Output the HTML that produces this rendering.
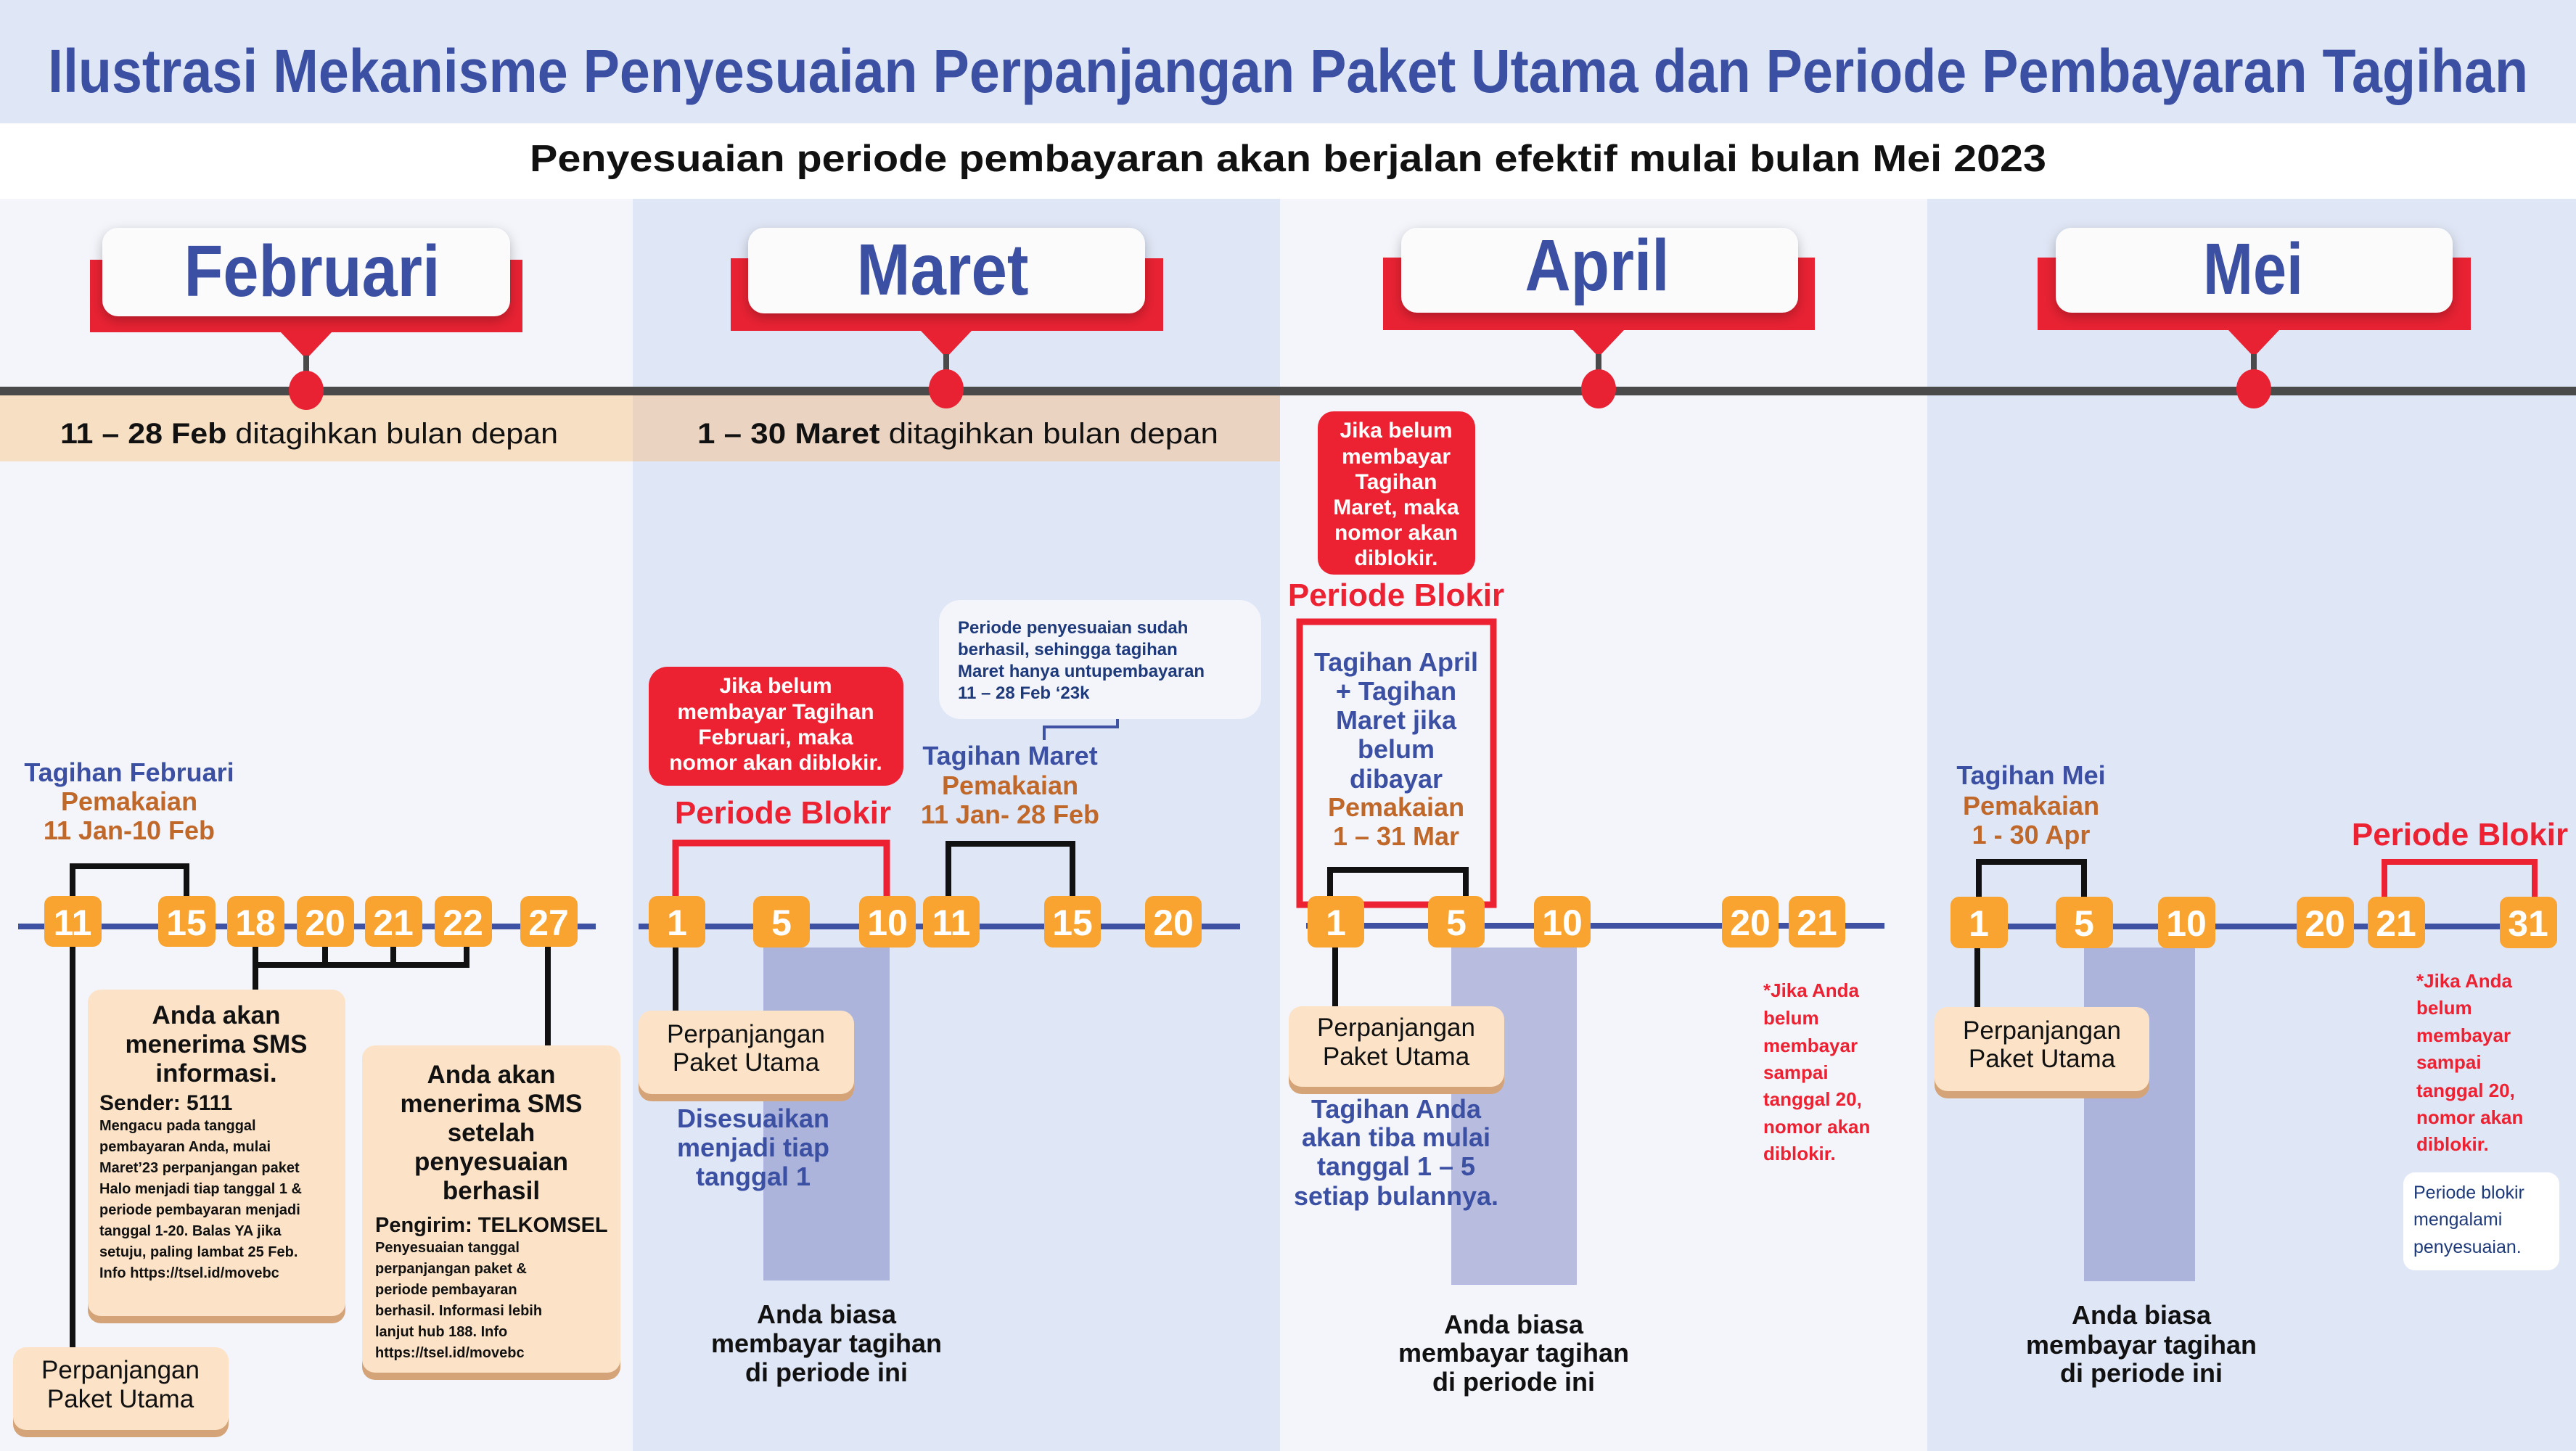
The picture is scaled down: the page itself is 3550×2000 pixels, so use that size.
<!DOCTYPE html>
<html><head><meta charset="utf-8"><style>
html,body{margin:0;padding:0;}
svg{display:block;}
text{font-family:"Liberation Sans",sans-serif;font-weight:bold;}
</style></head><body>
<svg width="3550" height="2000" viewBox="0 0 3550 2000" xmlns="http://www.w3.org/2000/svg">
<defs>
<filter id="sh" x="-10%" y="-20%" width="120%" height="150%"><feDropShadow dx="0" dy="6" stdDeviation="8" flood-color="#000" flood-opacity="0.25"/></filter>
</defs>
<!-- backgrounds -->
<rect x="0" y="0" width="3550" height="170" fill="#dfe6f5"/>
<rect x="0" y="170" width="3550" height="104" fill="#ffffff"/>
<rect x="0" y="274" width="872" height="1726" fill="#f3f5fb"/>
<rect x="872" y="274" width="892" height="1726" fill="#dfe6f5"/>
<rect x="1764" y="274" width="892" height="1726" fill="#f3f5fb"/>
<rect x="2656" y="274" width="894" height="1726" fill="#dfe6f5"/>
<rect x="0" y="544" width="872" height="92" fill="#f6dfc2"/>
<rect x="872" y="544" width="892" height="92" fill="#ead3c0"/>

<text x="1775" y="127" font-size="84" fill="#3b4fa3" text-anchor="middle" textLength="3418" lengthAdjust="spacingAndGlyphs">Ilustrasi Mekanisme Penyesuaian Perpanjangan Paket Utama dan Periode Pembayaran Tagihan</text>
<text x="1775" y="236" font-size="52" fill="#111" text-anchor="middle" textLength="2090" lengthAdjust="spacingAndGlyphs">Penyesuaian periode pembayaran akan berjalan efektif mulai bulan Mei 2023</text>

<!-- gray timeline -->
<rect x="0" y="533" width="3550" height="12" fill="#4a4a4a"/>
<text x="426" y="611" font-size="40" fill="#111" text-anchor="middle" textLength="686" lengthAdjust="spacingAndGlyphs">11 – 28 Feb <tspan font-weight="normal">ditagihkan bulan depan</tspan></text>
<text x="1320" y="611" font-size="40" fill="#111" text-anchor="middle" textLength="718" lengthAdjust="spacingAndGlyphs">1 – 30 Maret <tspan font-weight="normal">ditagihkan bulan depan</tspan></text>

<!-- month labels -->
<g>
<rect x="124" y="358" width="596" height="100" fill="#e82233"/>
<polygon points="387,458 457,458 422,495" fill="#e82233"/>
<rect x="418" y="490" width="8" height="40" fill="#4a4a4a"/>
<ellipse cx="422" cy="538" rx="24" ry="27" fill="#e82233"/>
<rect x="141" y="314" width="562" height="122" rx="22" fill="#fbfbfb" filter="url(#sh)"/>
<text x="430" y="408" font-size="100" fill="#3b4fa3" text-anchor="middle" textLength="353" lengthAdjust="spacingAndGlyphs">Februari</text>
</g>
<g>
<rect x="1007" y="356" width="596" height="100" fill="#e82233"/>
<polygon points="1269,456 1339,456 1304,493" fill="#e82233"/>
<rect x="1300" y="488" width="8" height="40" fill="#4a4a4a"/>
<ellipse cx="1304" cy="536" rx="24" ry="27" fill="#e82233"/>
<rect x="1031" y="314" width="547" height="118" rx="22" fill="#fbfbfb" filter="url(#sh)"/>
<text x="1299" y="406" font-size="100" fill="#3b4fa3" text-anchor="middle" textLength="237" lengthAdjust="spacingAndGlyphs">Maret</text>
</g>
<g>
<rect x="1906" y="355" width="595" height="100" fill="#e82233"/>
<polygon points="2168,455 2238,455 2203,492" fill="#e82233"/>
<rect x="2199" y="488" width="8" height="40" fill="#4a4a4a"/>
<ellipse cx="2203" cy="536" rx="24" ry="27" fill="#e82233"/>
<rect x="1931" y="314" width="547" height="117" rx="22" fill="#fbfbfb" filter="url(#sh)"/>
<text x="2201" y="400" font-size="100" fill="#3b4fa3" text-anchor="middle" textLength="199" lengthAdjust="spacingAndGlyphs">April</text>
</g>
<g>
<rect x="2808" y="355" width="597" height="100" fill="#e82233"/>
<polygon points="3071,455 3141,455 3106,492" fill="#e82233"/>
<rect x="3102" y="488" width="8" height="40" fill="#4a4a4a"/>
<ellipse cx="3106" cy="536" rx="24" ry="27" fill="#e82233"/>
<rect x="2833" y="314" width="547" height="117" rx="22" fill="#fbfbfb" filter="url(#sh)"/>
<text x="3105" y="405" font-size="100" fill="#3b4fa3" text-anchor="middle" textLength="138" lengthAdjust="spacingAndGlyphs">Mei</text>
</g>

<!-- ============ FEBRUARI ============ -->
<rect x="25" y="1273" width="796" height="8" fill="#3f51a3"/>
<text x="178" y="1077" font-size="36" fill="#3b4fa3" text-anchor="middle">Tagihan Februari</text>
<text x="178" y="1117" font-size="36" fill="#c0672a" text-anchor="middle">Pemakaian</text>
<text x="178" y="1157" font-size="36" fill="#c0672a" text-anchor="middle">11 Jan-10 Feb</text>
<path d="M100,1236 V1194 H257 V1236" fill="none" stroke="#111" stroke-width="8"/>
<path d="M100,1305 V1857" fill="none" stroke="#111" stroke-width="8"/>
<path d="M352,1305 V1330 H643 V1305 M448,1305 V1330 M542,1305 V1330 M352,1330 V1364" fill="none" stroke="#111" stroke-width="8"/>
<path d="M755,1305 V1441" fill="none" stroke="#111" stroke-width="8"/>
<g font-size="50" fill="#fff" text-anchor="middle">
<rect x="61" y="1235" width="79" height="70" rx="12" fill="#f9a431"/><text x="100" y="1289">11</text>
<rect x="218" y="1235" width="79" height="70" rx="12" fill="#f9a431"/><text x="257" y="1289">15</text>
<rect x="313" y="1235" width="79" height="70" rx="12" fill="#f9a431"/><text x="352" y="1289">18</text>
<rect x="409" y="1235" width="79" height="70" rx="12" fill="#f9a431"/><text x="448" y="1289">20</text>
<rect x="503" y="1235" width="79" height="70" rx="12" fill="#f9a431"/><text x="542" y="1289">21</text>
<rect x="599" y="1235" width="79" height="70" rx="12" fill="#f9a431"/><text x="638" y="1289">22</text>
<rect x="717" y="1235" width="79" height="70" rx="12" fill="#f9a431"/><text x="756" y="1289">27</text>
</g>
<!-- SMS box 1 -->
<rect x="121" y="1374" width="355" height="450" rx="18" fill="#d4a377"/>
<rect x="121" y="1364" width="355" height="450" rx="18" fill="#fce3c8"/>
<g font-size="35" fill="#111" text-anchor="middle">
<text x="298" y="1411">Anda akan</text>
<text x="298" y="1451">menerima SMS</text>
<text x="298" y="1491">informasi.</text>
</g>
<text x="137" y="1530" font-size="30" fill="#111">Sender: 5111</text>
<g font-size="20" fill="#111">
<text x="137" y="1558">Mengacu pada tanggal</text>
<text x="137" y="1587">pembayaran Anda, mulai</text>
<text x="137" y="1616">Maret’23 perpanjangan paket</text>
<text x="137" y="1645">Halo menjadi tiap tanggal 1 &amp;</text>
<text x="137" y="1674">periode pembayaran menjadi</text>
<text x="137" y="1703">tanggal 1-20. Balas YA jika</text>
<text x="137" y="1732">setuju, paling lambat 25 Feb.</text>
<text x="137" y="1761">Info https://tsel.id/movebc</text>
</g>
<!-- SMS box 2 -->
<rect x="499" y="1451" width="356" height="451" rx="18" fill="#d4a377"/>
<rect x="499" y="1441" width="356" height="451" rx="18" fill="#fce3c8"/>
<g font-size="35" fill="#111" text-anchor="middle">
<text x="677" y="1493">Anda akan</text>
<text x="677" y="1533">menerima SMS</text>
<text x="677" y="1573">setelah</text>
<text x="677" y="1613">penyesuaian</text>
<text x="677" y="1653">berhasil</text>
</g>
<text x="517" y="1698" font-size="29" fill="#111">Pengirim: TELKOMSEL</text>
<g font-size="20" fill="#111">
<text x="517" y="1726">Penyesuaian tanggal</text>
<text x="517" y="1755">perpanjangan paket &amp;</text>
<text x="517" y="1784">periode pembayaran</text>
<text x="517" y="1813">berhasil. Informasi lebih</text>
<text x="517" y="1842">lanjut hub 188. Info</text>
<text x="517" y="1871">https://tsel.id/movebc</text>
</g>
<!-- Perpanjangan Feb -->
<rect x="18" y="1867" width="297" height="114" rx="18" fill="#d4a377"/>
<rect x="18" y="1857" width="297" height="114" rx="18" fill="#fce3c8"/>
<g font-size="35" fill="#111" text-anchor="middle" font-weight="normal">
<text x="166" y="1900" style="font-weight:normal">Perpanjangan</text>
<text x="166" y="1940" style="font-weight:normal">Paket Utama</text>
</g>

<!-- ============ MARET ============ -->
<rect x="1052" y="1306" width="174" height="459" fill="#adb4db"/>
<rect x="880" y="1273" width="829" height="8" fill="#3f51a3"/>
<rect x="894" y="919" width="351" height="164" rx="26" fill="#ec2233"/>
<g font-size="30" fill="#fff" text-anchor="middle">
<text x="1069" y="955">Jika belum</text>
<text x="1069" y="991">membayar Tagihan</text>
<text x="1069" y="1026">Februari, maka</text>
<text x="1069" y="1061">nomor akan diblokir.</text>
</g>
<text x="1079" y="1135" font-size="44" fill="#ec2233" text-anchor="middle">Periode Blokir</text>
<path d="M931,1236 V1162 H1222 V1236" fill="none" stroke="#ec2233" stroke-width="9"/>
<rect x="1294" y="827" width="444" height="164" rx="30" fill="#f3f5fb"/>
<g font-size="24" fill="#1f3a7a">
<text x="1320" y="873">Periode penyesuaian sudah</text>
<text x="1320" y="903">berhasil, sehingga tagihan</text>
<text x="1320" y="933">Maret hanya untupembayaran</text>
<text x="1320" y="963">11 – 28 Feb ‘23k</text>
</g>
<path d="M1540,991 V1002 H1439 V1020" fill="none" stroke="#3f51a3" stroke-width="4"/>
<text x="1392" y="1054" font-size="36" fill="#3b4fa3" text-anchor="middle">Tagihan Maret</text>
<text x="1392" y="1095" font-size="36" fill="#c0672a" text-anchor="middle">Pemakaian</text>
<text x="1392" y="1135" font-size="36" fill="#c0672a" text-anchor="middle">11 Jan- 28 Feb</text>
<path d="M1307,1236 V1163 H1478 V1236" fill="none" stroke="#111" stroke-width="8"/>
<path d="M931,1305 V1393" fill="none" stroke="#111" stroke-width="8"/>
<g font-size="50" fill="#fff" text-anchor="middle">
<rect x="894" y="1235" width="78" height="71" rx="12" fill="#f9a431"/><text x="933" y="1289">1</text>
<rect x="1038" y="1235" width="78" height="71" rx="12" fill="#f9a431"/><text x="1077" y="1289">5</text>
<rect x="1184" y="1235" width="78" height="71" rx="12" fill="#f9a431"/><text x="1223" y="1289">10</text>
<rect x="1272" y="1235" width="78" height="71" rx="12" fill="#f9a431"/><text x="1311" y="1289">11</text>
<rect x="1439" y="1235" width="78" height="71" rx="12" fill="#f9a431"/><text x="1478" y="1289">15</text>
<rect x="1578" y="1235" width="78" height="71" rx="12" fill="#f9a431"/><text x="1617" y="1289">20</text>
</g>
<rect x="880" y="1403" width="297" height="115" rx="18" fill="#d4a377"/>
<rect x="880" y="1393" width="297" height="115" rx="18" fill="#fce3c8"/>
<text x="1028" y="1437" font-size="35" fill="#111" text-anchor="middle" style="font-weight:normal">Perpanjangan</text>
<text x="1028" y="1476" font-size="35" fill="#111" text-anchor="middle" style="font-weight:normal">Paket Utama</text>
<g font-size="36" fill="#3b4fa3" text-anchor="middle">
<text x="1038" y="1554">Disesuaikan</text>
<text x="1038" y="1594">menjadi tiap</text>
<text x="1038" y="1634">tanggal 1</text>
</g>
<g font-size="36" fill="#111" text-anchor="middle">
<text x="1139" y="1824">Anda biasa</text>
<text x="1139" y="1864">membayar tagihan</text>
<text x="1139" y="1904">di periode ini</text>
</g>

<!-- ============ APRIL ============ -->
<rect x="2000" y="1306" width="173" height="465" fill="#b8bde0"/>
<rect x="1800" y="1272" width="797" height="8" fill="#3f51a3"/>
<rect x="1816" y="567" width="217" height="225" rx="22" fill="#ec2233"/>
<g font-size="30" fill="#fff" text-anchor="middle">
<text x="1924" y="603">Jika belum</text>
<text x="1924" y="639">membayar</text>
<text x="1924" y="674">Tagihan</text>
<text x="1924" y="709">Maret, maka</text>
<text x="1924" y="744">nomor akan</text>
<text x="1924" y="779">diblokir.</text>
</g>
<text x="1924" y="835" font-size="44" fill="#ec2233" text-anchor="middle">Periode Blokir</text>
<rect x="1791" y="857" width="267" height="390" fill="none" stroke="#ec2233" stroke-width="9"/>
<g font-size="36" fill="#3b4fa3" text-anchor="middle">
<text x="1924" y="925">Tagihan April</text>
<text x="1924" y="965">+ Tagihan</text>
<text x="1924" y="1005">Maret jika</text>
<text x="1924" y="1045">belum</text>
<text x="1924" y="1086">dibayar</text>
<text x="1924" y="1125" fill="#c0672a">Pemakaian</text>
<text x="1924" y="1165" fill="#c0672a">1 – 31 Mar</text>
</g>
<path d="M1833,1236 V1199 H2020 V1236" fill="none" stroke="#111" stroke-width="8"/>
<path d="M1840,1305 V1387" fill="none" stroke="#111" stroke-width="8"/>
<g font-size="50" fill="#fff" text-anchor="middle">
<rect x="1802" y="1235" width="78" height="71" rx="12" fill="#f9a431"/><text x="1841" y="1289">1</text>
<rect x="1968" y="1235" width="78" height="71" rx="12" fill="#f9a431"/><text x="2007" y="1289">5</text>
<rect x="2114" y="1235" width="78" height="71" rx="12" fill="#f9a431"/><text x="2153" y="1289">10</text>
<rect x="2373" y="1235" width="78" height="71" rx="12" fill="#f9a431"/><text x="2412" y="1289">20</text>
<rect x="2465" y="1235" width="78" height="71" rx="12" fill="#f9a431"/><text x="2504" y="1289">21</text>
</g>
<rect x="1776" y="1397" width="297" height="111" rx="18" fill="#d4a377"/>
<rect x="1776" y="1387" width="297" height="111" rx="18" fill="#fce3c8"/>
<text x="1924" y="1428" font-size="35" fill="#111" text-anchor="middle" style="font-weight:normal">Perpanjangan</text>
<text x="1924" y="1468" font-size="35" fill="#111" text-anchor="middle" style="font-weight:normal">Paket Utama</text>
<g font-size="36" fill="#3b4fa3" text-anchor="middle">
<text x="1924" y="1541">Tagihan Anda</text>
<text x="1924" y="1580">akan tiba mulai</text>
<text x="1924" y="1620">tanggal 1 – 5</text>
<text x="1924" y="1661">setiap bulannya.</text>
</g>
<g font-size="26" fill="#ec2233">
<text x="2430" y="1374">*Jika Anda</text>
<text x="2430" y="1412">belum</text>
<text x="2430" y="1450">membayar</text>
<text x="2430" y="1487">sampai</text>
<text x="2430" y="1524">tanggal 20,</text>
<text x="2430" y="1562">nomor akan</text>
<text x="2430" y="1599">diblokir.</text>
</g>
<g font-size="36" fill="#111" text-anchor="middle">
<text x="2086" y="1838">Anda biasa</text>
<text x="2086" y="1877">membayar tagihan</text>
<text x="2086" y="1917">di periode ini</text>
</g>

<!-- ============ MEI ============ -->
<rect x="2872" y="1306" width="153" height="460" fill="#adb4db"/>
<rect x="2690" y="1273" width="826" height="8" fill="#3f51a3"/>
<text x="2799" y="1081" font-size="36" fill="#3b4fa3" text-anchor="middle">Tagihan Mei</text>
<text x="2799" y="1123" font-size="36" fill="#c0672a" text-anchor="middle">Pemakaian</text>
<text x="2799" y="1163" font-size="36" fill="#c0672a" text-anchor="middle">1 - 30 Apr</text>
<text x="3390" y="1165" font-size="44" fill="#ec2233" text-anchor="middle">Periode Blokir</text>
<path d="M2727,1236 V1188 H2872 V1236" fill="none" stroke="#111" stroke-width="8"/>
<path d="M3286,1236 V1188 H3493 V1236" fill="none" stroke="#ec2233" stroke-width="8"/>
<path d="M2725,1305 V1388" fill="none" stroke="#111" stroke-width="8"/>
<g font-size="50" fill="#fff" text-anchor="middle">
<rect x="2688" y="1236" width="79" height="71" rx="12" fill="#f9a431"/><text x="2727" y="1290">1</text>
<rect x="2833" y="1236" width="79" height="71" rx="12" fill="#f9a431"/><text x="2872" y="1290">5</text>
<rect x="2974" y="1236" width="79" height="71" rx="12" fill="#f9a431"/><text x="3013" y="1290">10</text>
<rect x="3165" y="1236" width="79" height="71" rx="12" fill="#f9a431"/><text x="3204" y="1290">20</text>
<rect x="3263" y="1236" width="79" height="71" rx="12" fill="#f9a431"/><text x="3302" y="1290">21</text>
<rect x="3445" y="1236" width="79" height="71" rx="12" fill="#f9a431"/><text x="3484" y="1290">31</text>
</g>
<rect x="2666" y="1398" width="296" height="116" rx="18" fill="#d4a377"/>
<rect x="2666" y="1388" width="296" height="116" rx="18" fill="#fce3c8"/>
<text x="2814" y="1432" font-size="35" fill="#111" text-anchor="middle" style="font-weight:normal">Perpanjangan</text>
<text x="2814" y="1471" font-size="35" fill="#111" text-anchor="middle" style="font-weight:normal">Paket Utama</text>
<g font-size="26" fill="#ec2233">
<text x="3330" y="1361">*Jika Anda</text>
<text x="3330" y="1398">belum</text>
<text x="3330" y="1436">membayar</text>
<text x="3330" y="1473">sampai</text>
<text x="3330" y="1512">tanggal 20,</text>
<text x="3330" y="1549">nomor akan</text>
<text x="3330" y="1586">diblokir.</text>
</g>
<rect x="3312" y="1616" width="215" height="135" rx="16" fill="#ffffff"/>
<g font-size="25" fill="#1f3a7a" style="font-weight:normal">
<text x="3326" y="1652" style="font-weight:normal">Periode blokir</text>
<text x="3326" y="1689" style="font-weight:normal">mengalami</text>
<text x="3326" y="1727" style="font-weight:normal">penyesuaian.</text>
</g>
<g font-size="36" fill="#111" text-anchor="middle">
<text x="2951" y="1825">Anda biasa</text>
<text x="2951" y="1866">membayar tagihan</text>
<text x="2951" y="1905">di periode ini</text>
</g>
</svg>
</body></html>
